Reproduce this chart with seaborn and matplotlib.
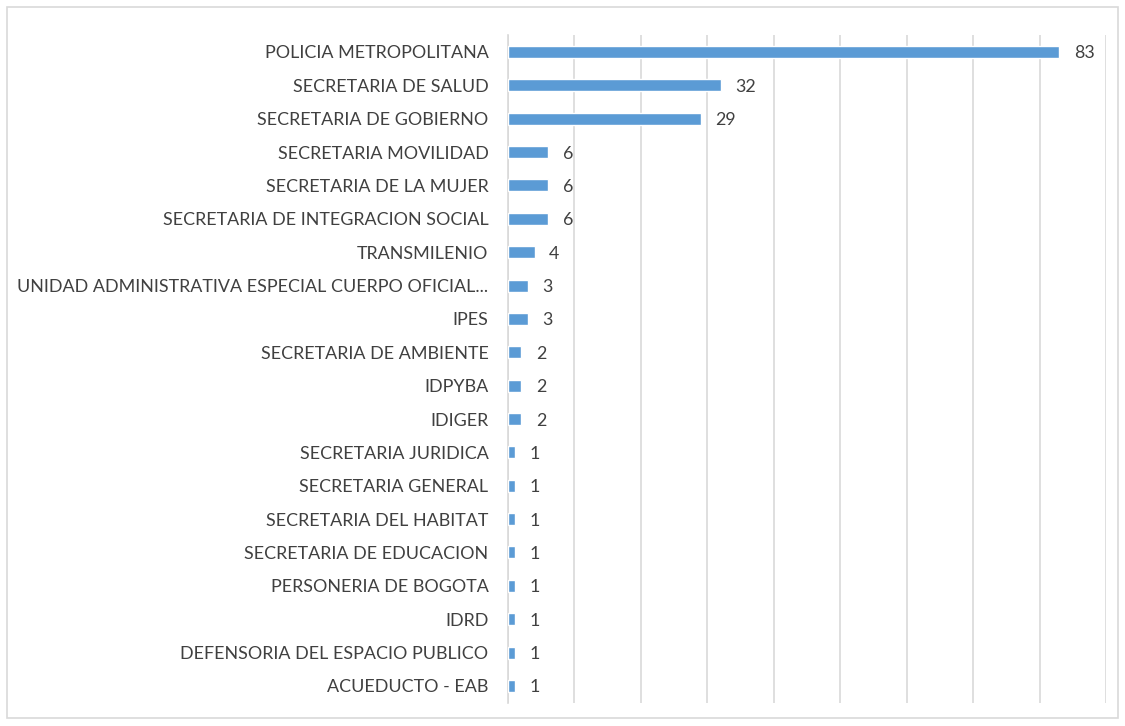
import matplotlib
matplotlib.use("Agg")
import matplotlib.pyplot as plt
import seaborn as sns
import pandas as pd
from matplotlib.patches import Rectangle

categories = [
    "POLICIA METROPOLITANA",
    "SECRETARIA DE SALUD",
    "SECRETARIA DE GOBIERNO",
    "SECRETARIA MOVILIDAD",
    "SECRETARIA DE LA MUJER",
    "SECRETARIA DE INTEGRACION SOCIAL",
    "TRANSMILENIO",
    "UNIDAD ADMINISTRATIVA ESPECIAL CUERPO OFICIAL...",
    "IPES",
    "SECRETARIA DE AMBIENTE",
    "IDPYBA",
    "IDIGER",
    "SECRETARIA JURIDICA",
    "SECRETARIA GENERAL",
    "SECRETARIA DEL HABITAT",
    "SECRETARIA DE EDUCACION",
    "PERSONERIA DE BOGOTA",
    "IDRD",
    "DEFENSORIA DEL ESPACIO PUBLICO",
    "ACUEDUCTO - EAB",
]
values = [83, 32, 29, 6, 6, 6, 4, 3, 3, 2, 2, 2, 1, 1, 1, 1, 1, 1, 1, 1]

df = pd.DataFrame({"cat": categories, "val": values})

sns.set_theme(style="white")
plt.rcParams['font.family'] = ['Lato', 'DejaVu Sans']

fig = plt.figure(figsize=(11.25, 7.26), dpi=100)
ax = fig.add_axes([0.4516, 0.0322, 0.5315, 0.9192])

bar_color = "#5B9BD5"
text_color = "#404040"

sns.barplot(data=df, y="cat", x="val", orient="h", color=bar_color,
            width=0.36, saturation=1, ax=ax, zorder=3)

ax.set_xlim(0, 90)
ax.set_ylim(len(categories) - 0.5, -0.5)
ax.set_xticks(range(0, 91, 10))
ax.set_xticklabels([])
ax.tick_params(axis='x', length=0)
ax.tick_params(axis='y', length=0, pad=14, labelsize=12.9, labelcolor=text_color)
ax.xaxis.grid(True, color="#D9D9D9", linewidth=1.2, zorder=0)
ax.yaxis.grid(False)
for s in ["top", "right", "bottom"]:
    ax.spines[s].set_visible(False)
ax.spines["left"].set_color("#D9D9D9")
ax.spines["left"].set_linewidth(1.2)
ax.set_xlabel("")
ax.set_ylabel("")

for i, v in enumerate(values):
    ax.text(v + 2.2, i, str(v), va="center_baseline", ha="left", fontsize=12.9, color=text_color)

fig.patches.append(Rectangle((7/1125, 8/726), 1111/1125, 711/726, transform=fig.transFigure,
                             fill=False, edgecolor="#D9D9D9", linewidth=1.2))

fig.savefig("out.png", dpi=100, facecolor="white")
